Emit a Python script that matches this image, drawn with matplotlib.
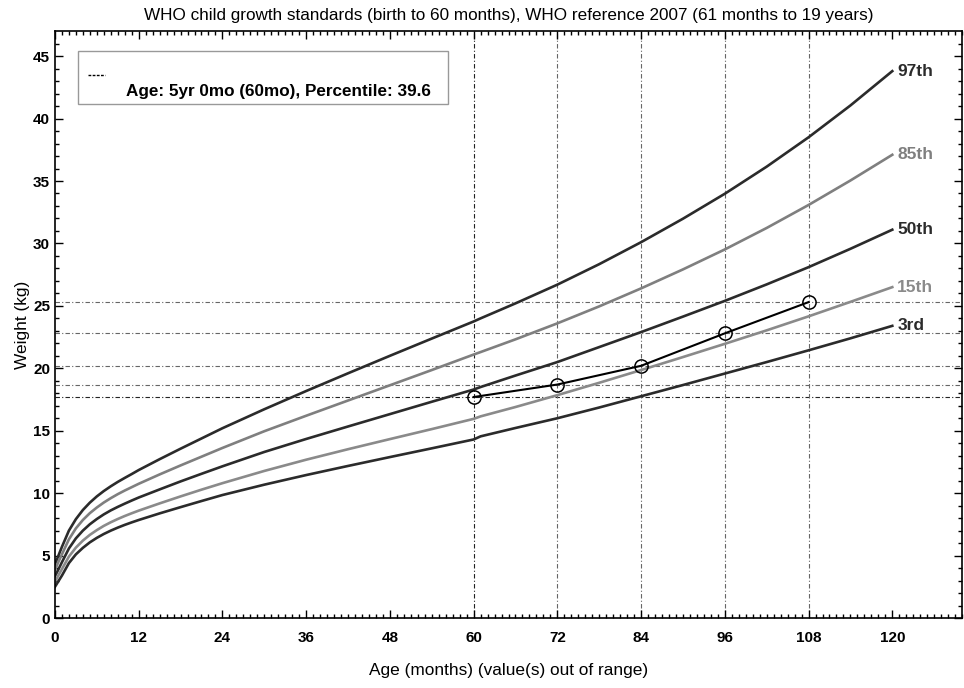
import matplotlib
matplotlib.use("Agg")
import matplotlib.pyplot as plt
from matplotlib.patches import Rectangle

plt.rcParams['font.family'] = ['Liberation Sans', 'DejaVu Sans']

# WHO weight-for-age percentiles (boys)
months = [0, 0.5, 1, 2, 3, 4, 5, 6, 7, 8, 9, 10, 11, 12, 15, 18, 21, 24, 30, 36, 42,
          48, 54, 60, 61, 66, 72, 78, 84, 90, 96, 102, 108, 114, 120]
p3 = [2.50, 2.95, 3.40, 4.40, 5.10, 5.62, 6.06, 6.42, 6.73, 7.00, 7.24, 7.46, 7.66, 7.85,
      8.38, 8.88, 9.37, 9.85, 10.68, 11.45, 12.18, 12.89, 13.59, 14.30,
      14.55, 15.22, 16.00, 16.86, 17.76, 18.66, 19.58, 20.50, 21.44, 22.40, 23.40]
p15 = [2.90, 3.42, 3.92, 4.92, 5.64, 6.20, 6.66, 7.04, 7.38, 7.67, 7.93, 8.17, 8.39, 8.60,
       9.18, 9.74, 10.28, 10.80, 11.78, 12.68, 13.52, 14.33, 15.13, 15.95,
       16.15, 16.90, 17.85, 18.84, 19.86, 20.90, 21.96, 23.04, 24.16, 25.32, 26.50]
p50 = [3.35, 3.90, 4.47, 5.57, 6.38, 7.00, 7.51, 7.93, 8.30, 8.62, 8.90, 9.16, 9.41, 9.65,
       10.30, 10.94, 11.55, 12.15, 13.30, 14.34, 15.34, 16.33, 17.32, 18.30,
       18.50, 19.42, 20.50, 21.70, 22.90, 24.14, 25.40, 26.72, 28.10, 29.57, 31.10]
p85 = [3.85, 4.50, 5.10, 6.30, 7.18, 7.85, 8.40, 8.85, 9.25, 9.60, 9.92, 10.21, 10.48, 10.75,
       11.50, 12.22, 12.92, 13.62, 14.96, 16.20, 17.42, 18.64, 19.86, 21.10,
       21.30, 22.32, 23.60, 24.96, 26.40, 27.92, 29.52, 31.24, 33.08, 35.04, 37.10]
p97 = [4.30, 5.00, 5.70, 7.00, 7.92, 8.65, 9.24, 9.74, 10.17, 10.55, 10.90, 11.22, 11.53, 11.85,
       12.72, 13.56, 14.38, 15.20, 16.72, 18.18, 19.60, 21.00, 22.38, 23.75,
       24.00, 25.20, 26.70, 28.34, 30.10, 31.98, 33.98, 36.15, 38.50, 41.05, 43.80]

pct_labels = ['97th', '85th', '50th', '15th', '3rd']
pct_series = [p97, p85, p50, p15, p3]
pct_colors = ['#2b2b2b', '#7f7f7f', '#2b2b2b', '#8a8a8a', '#2b2b2b']

# child's measurements
child_age = [60, 72, 84, 96, 108]
child_wt = [17.7, 18.7, 20.2, 22.8, 25.3]
legend_text = 'Age: 5yr 0mo (60mo), Percentile: 39.6'

fig = plt.figure(figsize=(9.64, 6.88), dpi=100)
ax = fig.add_axes([0.057, 0.1017, 0.941, 0.853])

# reference lines through each measurement
for i, (a, w) in enumerate(zip(child_age, child_wt)):
    c = '#222222' if i == 0 else '#666666'
    ax.axvline(a, color=c, lw=0.8, ls=(0, (4, 2, 1, 2)), zorder=1)
    ax.axhline(w, color=c, lw=0.8, ls=(0, (4, 2, 1, 2)), zorder=1)

for lab, ys, col in zip(pct_labels, pct_series, pct_colors):
    ax.plot(months, ys, color=col, lw=1.9, zorder=2)
    ax.text(months[-1] + 0.7, ys[-1], lab, color=col, fontsize=12.5,
            fontweight='bold', ha='left', va='center')

ax.plot(child_age, child_wt, color='black', lw=1.5, marker='o', ms=9.5,
        mfc='none', mec='black', mew=1.1, zorder=3)

ax.set_xlim(0, 130)
ax.set_ylim(0, 47)
ax.set_xticks(range(0, 121, 12))
ax.set_xticks(range(0, 131, 1), minor=True)
ax.set_yticks(range(0, 46, 5))
ax.set_yticks(range(0, 47, 1), minor=True)
ax.tick_params(which='both', direction='in', top=True, right=True, width=1)
ax.tick_params(which='major', length=6, labelsize=11)
ax.tick_params(which='minor', length=3)
for t in ax.get_xticklabels() + ax.get_yticklabels():
    t.set_fontweight('bold')
ax.tick_params(axis='x', pad=9)
for s in ax.spines.values():
    s.set_linewidth(1.2)

ax.set_title('WHO child growth standards (birth to 60 months), WHO reference 2007 (61 months to 19 years)',
             fontsize=12.3, pad=8)
ax.set_xlabel('Age (months) (value(s) out of range)', fontsize=12.4, labelpad=13)
ax.set_ylabel('Weight (kg)', fontsize=12.4, labelpad=2)

# legend box drawn like the original (short line above-left of the text)
ax.add_patch(Rectangle((0.0254, 0.8756), 0.408, 0.0903, transform=ax.transAxes,
                       facecolor='white', edgecolor='#999999', lw=1.0, zorder=5))
ax.plot([0.0364, 0.0551], [0.925, 0.925], transform=ax.transAxes, color='black',
        lw=1.0, ls=(0, (2, 1)), zorder=6)
ax.text(0.0783, 0.897, legend_text, transform=ax.transAxes, fontsize=12.3,
        fontweight='bold', ha='left', va='center', zorder=6)

fig.savefig('out.png', dpi=100)
